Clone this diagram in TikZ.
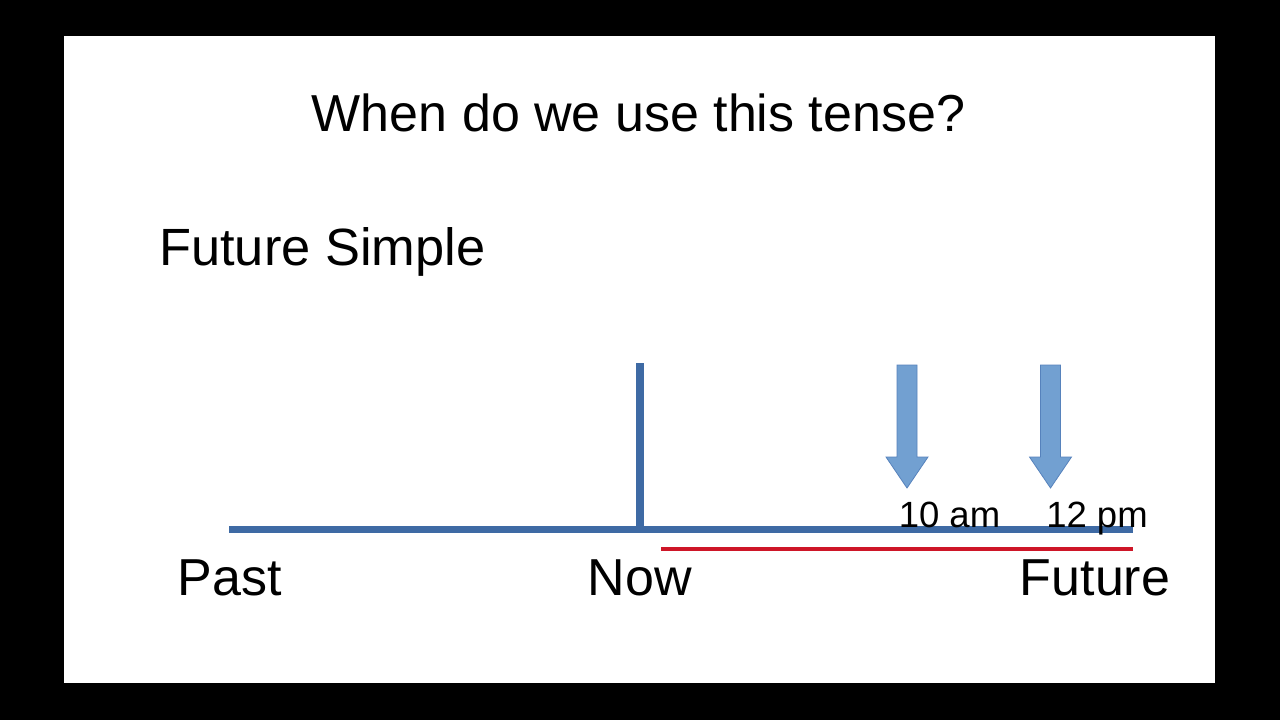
\documentclass[tikz,border=0pt]{standalone}
\usepackage{fontspec}
\setmainfont{Liberation Sans}
\definecolor{lineblue}{RGB}{62,106,164}
\definecolor{arrowblue}{RGB}{114,160,209}
\definecolor{arrowedge}{RGB}{86,130,188}
\definecolor{spanred}{RGB}{206,22,40}
\tikzset{
  big/.style={inner sep=0pt, anchor=base, font=\fontsize{52}{60}\selectfont},
  small/.style={inner sep=0pt, anchor=base, font=\fontsize{36.5}{42}\selectfont},
  timeline/.style={lineblue, line width=7pt},
  pointer/.style={fill=arrowblue, draw=arrowedge, line width=0.8pt}
}
\begin{document}
\begin{tikzpicture}[x=1pt, y=-1pt, line join=miter]
  \fill[black] (0,0) rectangle (1280,720);
  \fill[white] (64,36) rectangle (1215,683);
  \useasboundingbox (0,0) rectangle (1280,720);

  \node[big] (title) at (638.5,131) {When do we use this tense?};
  \node[big, anchor=base west, font=\fontsize{52.4}{60}\selectfont] (tense) at (159,265) {Future Simple};

  % the line of time
  \coordinate (start) at (229,529);
  \coordinate (stop) at (1133,529);
  \coordinate (nowtop) at (640,363);
  \coordinate (nowfoot) at (640,529);
  \coordinate (redstart) at (661,549);
  \coordinate (redstop) at (1133,549);
  \draw[timeline] (start) -- (stop);
  \draw[lineblue, line width=8pt] (nowtop) -- (nowfoot);
  \draw[spanred, line width=3.5pt] (redstart) -- (redstop);

  % two moments in the future
  \foreach \c in {907,1050.5}
    \draw[pointer]
      (\c-10,365) -- (\c+10,365) -- (\c+10,457) -- (\c+21,457) --
      (\c,488) -- (\c-21,457) -- (\c-10,457) -- cycle;

  \node[small] (tenam) at (949.5,527) {10 am};
  \node[small] (twelvepm) at (1097,527) {12 pm};

  \node[big] (past) at (229.5,595) {Past};
  \node[big] (now) at (640,595) {Now};
  \node[big] (future) at (1095,595) {Future};
\end{tikzpicture}
\end{document}
